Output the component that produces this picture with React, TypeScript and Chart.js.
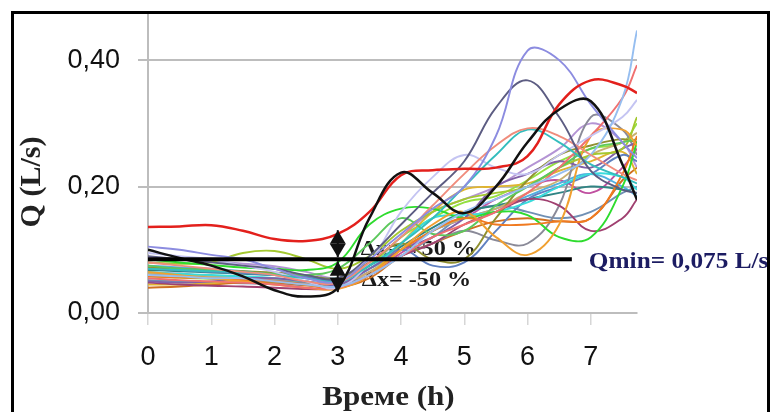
import React, { useEffect, useRef } from "react";
import { Chart, registerables } from "chart.js";
Chart.register(...registerables);

// ---- data ----
const times = [0, 0.5, 1, 1.5, 2, 2.5, 3, 3.5, 4, 4.5, 5, 5.5, 6, 6.5, 7, 7.5, 7.73];
const xTicks = [0, 1, 2, 3, 4, 5, 6, 7];
const yTicks = [0, 0.2, 0.4];
const xMax = 7.73;
const yMax = 0.473;
const qminX = [0, 6.7];
const qminValue = 0.085;
const arrowX = 3;
const arrowValues = [0.033, 0.085, 0.131];

const sRed = [0.136, 0.137, 0.139, 0.13, 0.117, 0.114, 0.125, 0.16, 0.218, 0.226, 0.228, 0.23, 0.248, 0.33, 0.368, 0.36, 0.348];
const sBlack = [0.1, 0.087, 0.075, 0.058, 0.036, 0.026, 0.04, 0.15, 0.222, 0.19, 0.158, 0.2, 0.27, 0.322, 0.335, 0.235, 0.179];
const sPeriwinkle = [0.105, 0.1, 0.092, 0.085, 0.07, 0.055, 0.05, 0.085, 0.125, 0.165, 0.2, 0.28, 0.415, 0.4, 0.33, 0.27, 0.245];
const sSlate = [0.09, 0.085, 0.08, 0.075, 0.07, 0.06, 0.055, 0.09, 0.14, 0.19, 0.24, 0.325, 0.368, 0.31, 0.225, 0.195, 0.19];
const sSalmon = [0.08, 0.075, 0.07, 0.065, 0.06, 0.05, 0.048, 0.08, 0.12, 0.17, 0.22, 0.265, 0.292, 0.28, 0.25, 0.22, 0.21];
const sTeal = [0.07, 0.068, 0.066, 0.065, 0.06, 0.055, 0.05, 0.075, 0.11, 0.15, 0.2, 0.25, 0.29, 0.27, 0.235, 0.215, 0.205];
const sLightBlue = [0.06, 0.058, 0.055, 0.055, 0.05, 0.045, 0.042, 0.06, 0.09, 0.13, 0.16, 0.18, 0.2, 0.22, 0.25, 0.34, 0.447];
const sPaleLavender = [0.095, 0.09, 0.085, 0.075, 0.065, 0.05, 0.04, 0.08, 0.16, 0.215, 0.25, 0.23, 0.22, 0.25, 0.28, 0.31, 0.337];
const sPinkRed = [0.055, 0.052, 0.05, 0.048, 0.045, 0.04, 0.04, 0.06, 0.09, 0.12, 0.14, 0.16, 0.19, 0.23, 0.28, 0.34, 0.392];
const sOrange = [0.065, 0.06, 0.055, 0.05, 0.045, 0.04, 0.038, 0.06, 0.1, 0.14, 0.16, 0.12, 0.092, 0.14, 0.28, 0.29, 0.265];
const sDarkOrange = [0.058, 0.056, 0.055, 0.052, 0.05, 0.045, 0.04, 0.06, 0.1, 0.13, 0.15, 0.14, 0.14, 0.145, 0.15, 0.22, 0.28];
const sGreen = [0.085, 0.08, 0.076, 0.072, 0.07, 0.068, 0.08, 0.14, 0.165, 0.165, 0.15, 0.16, 0.155, 0.12, 0.12, 0.2, 0.27];
const sGreen2 = [0.075, 0.07, 0.068, 0.065, 0.062, 0.06, 0.07, 0.11, 0.15, 0.125, 0.13, 0.17, 0.2, 0.23, 0.26, 0.27, 0.275];
const sYellowGreen = [0.08, 0.078, 0.08, 0.095, 0.098, 0.085, 0.07, 0.09, 0.13, 0.16, 0.18, 0.19, 0.2, 0.23, 0.25, 0.26, 0.31];
const sOlive = [0.072, 0.07, 0.068, 0.066, 0.064, 0.06, 0.055, 0.08, 0.11, 0.085, 0.085, 0.15, 0.21, 0.25, 0.265, 0.275, 0.27];
const sPurple = [0.05, 0.048, 0.05, 0.055, 0.055, 0.05, 0.045, 0.07, 0.1, 0.12, 0.15, 0.2, 0.22, 0.24, 0.23, 0.26, 0.27];
const sMaroon = [0.048, 0.045, 0.043, 0.042, 0.04, 0.038, 0.04, 0.06, 0.09, 0.11, 0.14, 0.16, 0.18, 0.17, 0.13, 0.15, 0.18];
const sCyan = [0.065, 0.062, 0.06, 0.058, 0.055, 0.05, 0.048, 0.07, 0.11, 0.15, 0.155, 0.16, 0.175, 0.2, 0.22, 0.215, 0.195];
const sSteel = [0.07, 0.068, 0.065, 0.063, 0.06, 0.058, 0.05, 0.07, 0.1, 0.075, 0.08, 0.13, 0.18, 0.2, 0.22, 0.25, 0.24];
const sGray = [0.06, 0.058, 0.055, 0.052, 0.05, 0.048, 0.045, 0.06, 0.09, 0.11, 0.13, 0.115, 0.11, 0.17, 0.31, 0.29, 0.25];
const sGold = [0.045, 0.045, 0.047, 0.05, 0.05, 0.045, 0.04, 0.06, 0.11, 0.16, 0.195, 0.2, 0.205, 0.225, 0.24, 0.255, 0.22];
const sKhaki = [0.062, 0.06, 0.058, 0.056, 0.054, 0.05, 0.045, 0.065, 0.1, 0.13, 0.15, 0.165, 0.19, 0.21, 0.25, 0.27, 0.285];
const sDarkTeal = [0.068, 0.066, 0.064, 0.062, 0.06, 0.056, 0.052, 0.075, 0.105, 0.135, 0.16, 0.17, 0.18, 0.19, 0.2, 0.195, 0.19];
const sLime = [0.058, 0.056, 0.054, 0.052, 0.05, 0.048, 0.046, 0.075, 0.12, 0.15, 0.175, 0.185, 0.21, 0.24, 0.26, 0.27, 0.3];
const sSky = [0.075, 0.072, 0.07, 0.066, 0.062, 0.058, 0.055, 0.07, 0.1, 0.13, 0.15, 0.165, 0.185, 0.205, 0.22, 0.2, 0.185];
const sBrown = [0.04, 0.042, 0.045, 0.048, 0.048, 0.044, 0.04, 0.055, 0.09, 0.11, 0.13, 0.145, 0.15, 0.145, 0.15, 0.21, 0.23];
const sLilac = [0.088, 0.085, 0.082, 0.078, 0.074, 0.065, 0.055, 0.075, 0.12, 0.16, 0.18, 0.2, 0.23, 0.26, 0.3, 0.27, 0.23];
const sGrayBlue = [0.052, 0.05, 0.048, 0.047, 0.046, 0.044, 0.042, 0.06, 0.09, 0.12, 0.155, 0.17, 0.16, 0.15, 0.16, 0.19, 0.2];
const sMagenta = [0.064, 0.062, 0.058, 0.055, 0.052, 0.048, 0.045, 0.065, 0.095, 0.13, 0.15, 0.18, 0.2, 0.21, 0.19, 0.23, 0.26];

const thinSeries = [
  sPeriwinkle, sSlate, sSalmon, sTeal, sLightBlue, sPaleLavender, sPinkRed, sOrange, sDarkOrange,
  sGreen, sGreen2, sYellowGreen, sOlive, sPurple, sMaroon, sCyan, sSteel, sGray, sGold, sKhaki,
  sDarkTeal, sLime, sSky, sBrown, sLilac, sGrayBlue, sMagenta,
];
const thinColors = [
  "#8c8ce0", "#5c5c82", "#f08c7c", "#33bdbd", "#96bef0", "#c4c4f2", "#f07070", "#f0a030", "#f07a20",
  "#2edc2e", "#5cc85c", "#a4c830", "#909030", "#8060a8", "#a04070", "#38dcdc", "#6080c0", "#8a8a98", "#e0b430", "#c8b070",
  "#308484", "#94e040", "#50b0e0", "#d07020", "#b494d4", "#7090b4", "#c050a0",
];

const serif = '"Liberation Serif", "Times New Roman", serif';
const sans = '"Liberation Sans", Arial, sans-serif';

function stretchText(ctx: CanvasRenderingContext2D, text: string, x: number, y: number, sx: number) {
  ctx.save();
  ctx.translate(x, y);
  ctx.scale(sx, 1);
  ctx.fillText(text, 0, 0);
  ctx.restore();
}

function drawDoubleArrow(ctx: CanvasRenderingContext2D, x: number, y1: number, y2: number, gap: number) {
  const top = Math.min(y1, y2);
  const bot = Math.max(y1, y2);
  const half = (bot - top) / 2 - gap;
  const w = 8;
  ctx.beginPath();
  ctx.moveTo(x, top);
  ctx.lineTo(x - w, top + half);
  ctx.lineTo(x + w, top + half);
  ctx.closePath();
  ctx.fill();
  ctx.beginPath();
  ctx.moveTo(x, bot);
  ctx.lineTo(x - w, bot - half);
  ctx.lineTo(x + w, bot - half);
  ctx.closePath();
  ctx.fill();
  ctx.beginPath();
  ctx.moveTo(x, top);
  ctx.lineTo(x, bot);
  ctx.stroke();
}

const overlay = {
  id: "overlay",
  beforeDatasetsDraw(chart: any) {
    const ctx = chart.ctx as CanvasRenderingContext2D;
    const xs = chart.scales.x;
    const ys = chart.scales.y;
    ctx.save();
    ctx.fillStyle = "#1a1a1a";
    ctx.font = `bold 21px ${serif}`;
    ctx.textBaseline = "alphabetic";
    ctx.textAlign = "left";
    const lx = xs.getPixelForValue(arrowX) + 23;
    const ly = ys.getPixelForValue(qminValue);
    stretchText(ctx, "Δx= +50 %", lx, ly - 4, 1.15);
    stretchText(ctx, "Δx= -50 %", lx + 1, ly + 27, 1.15);
    ctx.restore();
  },
  afterDraw(chart: any) {
    const ctx = chart.ctx as CanvasRenderingContext2D;
    const xs = chart.scales.x;
    const ys = chart.scales.y;
    const area = chart.chartArea;
    ctx.save();
    // arrows
    ctx.fillStyle = "#111";
    ctx.strokeStyle = "#111";
    ctx.lineWidth = 2;
    const ax = xs.getPixelForValue(arrowX);
    drawDoubleArrow(ctx, ax, ys.getPixelForValue(arrowValues[2]), ys.getPixelForValue(arrowValues[1]) - 2, 0);
    drawDoubleArrow(ctx, ax, ys.getPixelForValue(arrowValues[1]) + 2, ys.getPixelForValue(arrowValues[0]), 1);
    // Qmin label
    ctx.fillStyle = "#1c1c62";
    ctx.font = `bold 23px ${serif}`;
    ctx.textAlign = "left";
    ctx.textBaseline = "alphabetic";
    stretchText(ctx, "Qmin= 0,075 L/s", xs.getPixelForValue(qminX[1]) + 17, ys.getPixelForValue(qminValue) + 9, 1.1);
    // axis titles
    ctx.fillStyle = "#222";
    ctx.font = `bold 27px ${serif}`;
    ctx.textAlign = "center";
    stretchText(ctx, "Време (h)", (area.left + area.right) / 2 - 4, 405, 1.15);
    ctx.save();
    ctx.translate(40, 182);
    ctx.rotate(-Math.PI / 2);
    ctx.font = `bold 30px ${serif}`;
    ctx.textAlign = "center";
    ctx.fillText("Q (L/s)", 0, 0);
    ctx.restore();
    // frame
    ctx.strokeStyle = "#000";
    ctx.lineWidth = 3;
    ctx.strokeRect(12.5, 12.5, 756, 520);
    ctx.restore();
  },
};

export default function App() {
  const ref = useRef<HTMLCanvasElement>(null);
  useEffect(() => {
    document.body.style.margin = "0";
    document.body.style.overflow = "hidden";
    const toPts = (arr: number[]) => arr.map((v, i) => ({ x: times[i], y: v }));
    const datasets: any[] = [
      {
        data: qminX.map((x) => ({ x, y: qminValue })),
        borderColor: "#000",
        borderWidth: 4,
        tension: 0,
      },
      { data: toPts(sBlack), borderColor: "#111", borderWidth: 2.5, tension: 0.4 },
      { data: toPts(sRed), borderColor: "#e3201c", borderWidth: 2.5, tension: 0.4 },
      ...thinSeries.map((s, i) => ({
        data: toPts(s),
        borderColor: thinColors[i],
        borderWidth: 1.9,
        tension: 0.4,
      })),
    ].map((d) => ({ ...d, pointRadius: 0, fill: false }));

    const chart = new Chart(ref.current!, {
      type: "line",
      data: { datasets },
      options: {
        responsive: false,
        animation: false,
        layout: { padding: { left: 0, right: 133, top: 14, bottom: 0 } },
        plugins: { legend: { display: false }, tooltip: { enabled: false } },
        scales: {
          x: {
            type: "linear",
            min: 0,
            max: xMax,
            afterBuildTicks: (s: any) => {
              s.ticks = xTicks.map((v) => ({ value: v }));
            },
            afterFit: (s: any) => {
              s.height = 99;
              s.paddingLeft = 0;
              s.paddingRight = 0;
            },
            grid: { drawOnChartArea: false, drawTicks: true, tickLength: 12, color: "#d6d6d6", lineWidth: 1.5 },
            border: { display: true, color: "#bdbdbd", width: 2 },
            ticks: {
              padding: 16,
              maxRotation: 0,
              autoSkip: false,
              color: "#111",
              font: { family: sans, size: 27 },
              callback: (v: any) => String(v),
            },
          },
          y: {
            type: "linear",
            min: 0,
            max: yMax,
            afterBuildTicks: (s: any) => {
              s.ticks = yTicks.map((v) => ({ value: v }));
            },
            afterFit: (s: any) => {
              s.width = 148;
              s.paddingTop = 0;
              s.paddingBottom = 0;
            },
            grid: { color: "#bdbdbd", lineWidth: 2, tickLength: 10 },
            border: { display: true, color: "#bdbdbd", width: 2 },
            ticks: {
              padding: 18,
              color: "#111",
              font: { family: sans, size: 27 },
              callback: (v: any) => Number(v).toFixed(2).replace(".", ","),
            },
          },
        },
      },
      plugins: [overlay],
    });
    return () => chart.destroy();
  }, []);
  return (
    <div style={{ width: 770, height: 412, overflow: "hidden" }}>
      <canvas ref={ref} width={770} height={412} style={{ display: "block" }} />
    </div>
  );
}
